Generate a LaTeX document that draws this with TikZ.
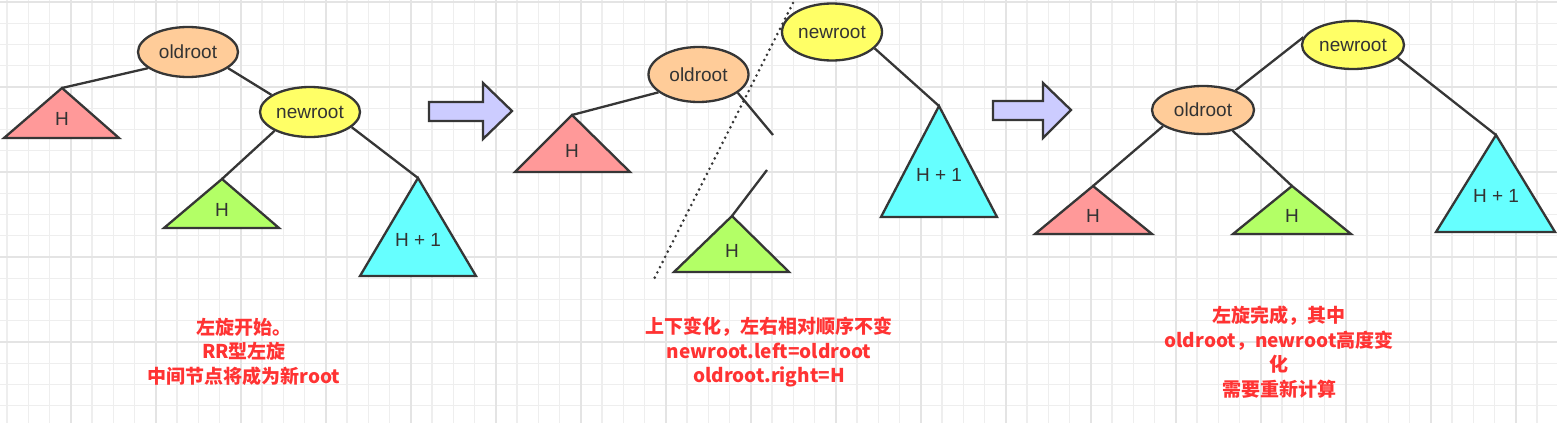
\documentclass[tikz,border=0pt]{standalone}
\usepackage{fontspec}
\setmainfont{Liberation Sans}
\newfontfamily\cjk{Noto Sans CJK SC}
\usetikzlibrary{shapes.geometric}
\definecolor{stroke}{HTML}{363636}
\definecolor{txt}{HTML}{333333}
\definecolor{gridminor}{HTML}{EEEEEE}
\definecolor{gridmajor}{HTML}{E4E4E4}
\definecolor{oldfill}{HTML}{FFCC99}
\definecolor{newfill}{HTML}{FFFF66}
\definecolor{redfill}{HTML}{FF9999}
\definecolor{greenfill}{HTML}{B3FF66}
\definecolor{cyanfill}{HTML}{66FFFF}
\definecolor{arrowfill}{HTML}{CCCCFF}
\definecolor{notered}{HTML}{FF3333}
\begin{document}
\begin{tikzpicture}[x=1pt,y=-1pt,
  minorline/.style={draw=gridminor,line width=1.2pt},
  majorline/.style={draw=gridmajor,line width=1.6pt},
  treenode/.style={ellipse,draw=stroke,line width=2.3pt,minimum width=100pt,minimum height=50pt,inner sep=0pt,text=txt,font=\fontsize{19}{19}\selectfont},
  tri/.style={draw=stroke,line width=2.3pt},
  edge/.style={draw=stroke,line width=2.3pt},
  lab/.style={text=txt,inner sep=0pt,font=\fontsize{19}{19}\selectfont},
  blockarrow/.style={draw=stroke,line width=2.3pt,fill=arrowfill},
  dotline/.style={draw=stroke,line width=2.9pt,line cap=round,dash pattern=on 0pt off 5.8pt},
  note/.style={text=notered,align=center,inner sep=0pt,font=\cjk\bfseries\fontsize{19}{24.5}\selectfont}]
\useasboundingbox (0,0) rectangle (1557,423);
\fill[white] (0,0) rectangle (1557,423);
% grid
\foreach \k in {0,...,73}{\pgfmathsetmacro\xx{7+21.25*\k}\draw[minorline] (\xx,0) -- (\xx,423);}
\foreach \k in {0,...,20}{\pgfmathsetmacro\yy{2+21.25*\k}\draw[minorline] (0,\yy) -- (1557,\yy);}
\foreach \k in {0,...,18}{\pgfmathsetmacro\xx{70.75+85*\k}\draw[majorline] (\xx,0) -- (\xx,423);}
\foreach \k in {0,...,4}{\pgfmathsetmacro\yy{2+85*\k}\draw[majorline] (0,\yy) -- (1557,\yy);}

% ---------- panel 1 ----------
\coordinate (ra) at (62,88);
\coordinate (ga) at (222,179);
\coordinate (ca) at (418,178);
\draw[tri,fill=redfill] (ra) -- (4,138) -- (119,138) -- cycle;
\draw[tri,fill=greenfill] (ga) -- (164,228) -- (279,228) -- cycle;
\draw[tri,fill=cyanfill] (ca) -- (360,276) -- (476,276) -- cycle;
\node[lab] (ral) at (62,119) {H};
\node[lab] (gal) at (222,210) {H};
\node[lab] (cal) at (418,240) {H + 1};
\node[treenode,fill=oldfill] (oa) at (188,52) {oldroot};
\node[treenode,fill=newfill] (na) at (310,112) {newroot};
\draw[edge] (oa.202) -- (ra);
\draw[edge] (oa.-22) -- (na.156);
\draw[edge] (na.208) -- (ga);
\draw[edge] (na.-20) -- (ca);

% arrow 1
\draw[blockarrow] (429,102) -- (483,102) -- (483,83) -- (512,111) -- (483,139) -- (483,121) -- (429,121) -- cycle;

% ---------- panel 2 ----------
\coordinate (rb) at (572,115);
\coordinate (gb) at (732,216);
\coordinate (cb) at (939,106);
\coordinate (oldend) at (773,135);
\coordinate (gend) at (767,170);
\coordinate (dtop) at (793,3);
\coordinate (dbot) at (653,281);
\draw[tri,fill=redfill] (rb) -- (515,172) -- (630,172) -- cycle;
\draw[tri,fill=greenfill] (gb) -- (674,272) -- (789,272) -- cycle;
\draw[tri,fill=cyanfill] (cb) -- (881,217) -- (997,217) -- cycle;
\node[lab] (rbl) at (572,151) {H};
\node[lab] (gbl) at (732,251) {H};
\node[lab] (cbl) at (939,175) {H + 1};
\node[treenode,fill=oldfill,minimum height=55pt] (ob) at (698.5,74.5) {oldroot};
\node[treenode,fill=newfill,minimum height=57pt] (nb) at (832,32) {newroot};
\draw[edge] (ob.204) -- (rb);
\draw[edge] (ob.-25) -- (oldend);
\draw[edge] (gb) -- (gend);
\draw[edge] (nb.-21) -- (cb);
\draw[dotline] (dtop) -- (dbot);

% arrow 2
\draw[blockarrow] (993,101) -- (1043,101) -- (1043,83) -- (1071,110) -- (1043,138) -- (1043,120) -- (993,120) -- cycle;

% ---------- panel 3 ----------
\coordinate (rc) at (1093,186);
\coordinate (gc) at (1292,186);
\coordinate (cc) at (1496,135);
\draw[tri,fill=redfill] (rc) -- (1035,234) -- (1152,234) -- cycle;
\draw[tri,fill=greenfill] (gc) -- (1233,234) -- (1351,234) -- cycle;
\draw[tri,fill=cyanfill] (cc) -- (1436,232) -- (1555,232) -- cycle;
\node[lab] (rcl) at (1093,216) {H};
\node[lab] (gcl) at (1292,216) {H};
\node[lab] (ccl) at (1496,196) {H + 1};
\node[treenode,fill=newfill,minimum width=102pt,minimum height=48pt] (nc) at (1353,45) {newroot};
\node[treenode,fill=oldfill,minimum width=102pt,minimum height=48pt] (oc) at (1203,110) {oldroot};
\draw[edge] (nc.171) -- (oc.31);
\draw[edge] (nc.-16) -- (cc);
\draw[edge] (oc.202) -- (rc);
\draw[edge] (oc.-35) -- (gc);

% ---------- notes ----------
\node[note] (n1) at (244,351.5) {左旋开始。\\RR型左旋\\中间节点将成为新root};
\node[note] (n2) at (769,352.5) {上下变化，左右相对顺序不变\\newroot.left=oldroot\\oldroot.right=H};
\node[note] (n3) at (1279,352) {左旋完成，其中\\oldroot，newroot高度变\\化\\需要重新计算};
\end{tikzpicture}
\end{document}
